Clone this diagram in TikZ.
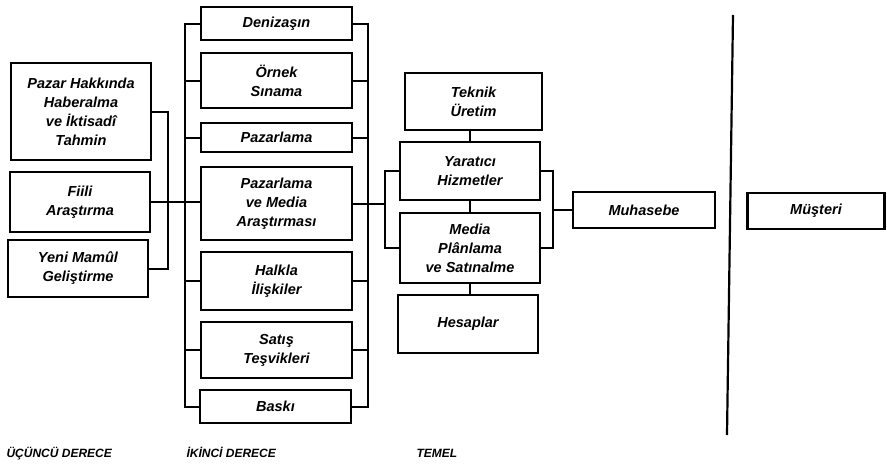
\documentclass[tikz,border=0pt]{standalone}
\usepackage{fontspec}
\setmainfont{Liberation Sans}
\usetikzlibrary{calc}

\tikzset{
  box/.style={draw, line width=2.3pt, align=center, inner sep=1pt,
    font=\fontsize{14.5}{19}\selectfont\bfseries\itshape},
  wire/.style={line width=2pt},
  level/.style={anchor=base west, font=\fontsize{12}{14}\selectfont\bfseries\itshape}
}

\begin{document}
\begin{tikzpicture}[x=1pt, y=-1pt]
  \useasboundingbox (0,0) rectangle (887,474);

  % Third degree
  \node[box, minimum width=140, minimum height=97] (haber) at (81,111.5) {Pazar Hakkında\\Haberalma\\ve İktisadî\\Tahmin};
  \node[box, minimum width=140, minimum height=60] (fiili) at (80,202) {Fiili\\Araştırma};
  \node[box, minimum width=140, minimum height=57] (yeni) at (78,268.5) {Yeni Mamûl\\Geliştirme};

  % Second degree
  \node[box, minimum width=151, minimum height=33] (deniz) at (276.5,23.5) {Denizaşın};
  \node[box, minimum width=151, minimum height=55] (ornek) at (276.5,80.5) {Örnek\\Sınama};
  \node[box, minimum width=151, minimum height=29] (pazar) at (276.5,137.5) {Pazarlama};
  \node[box, minimum width=151, minimum height=73] (media) at (276.5,203.5) {Pazarlama\\ve Media\\Araştırması};
  \node[box, minimum width=151, minimum height=58] (halkla) at (276.5,281) {Halkla\\İlişkiler};
  \node[box, minimum width=151, minimum height=56] (satis) at (276.5,350) {Satış\\Teşvikleri};
  \node[box, minimum width=151, minimum height=33] (baski) at (275.5,406.5) {Baskı};

  % Basic
  \node[box, minimum width=137, minimum height=57] (teknik) at (473.5,101.5) {Teknik\\Üretim};
  \node[box, minimum width=140, minimum height=58] (yaratici) at (470,171) {Yaratıcı\\Hizmetler};
  \node[box, minimum width=140, minimum height=70] (mplan) at (470,248) {Media\\Plânlama\\ve Satınalme};
  \node[box, minimum width=140, minimum height=58] (hesap) at (468,324) {Hesaplar};
  \node[box, minimum width=142, minimum height=36] (muhasebe) at (644,210) {Muhasebe};

  % Customer side
  \coordinate (divtop) at (733,15);
  \coordinate (divbot) at (727,435);
  \draw[line width=2.2pt] (divtop) -- (divbot);
  \node[box, minimum width=137, minimum height=36] (musteri) at (816,211) {Müşteri};

  % Bus lines
  \coordinate (lbus) at (185,0);
  \coordinate (rbus) at (368,0);
  \coordinate (tl) at (385,0);
  \coordinate (tr) at (553,0);

  \draw[wire] (haber.east) -- ++(16,0) |- (yeni.east);
  \draw[wire] (fiili.east) -- (fiili.east -| media.west);

  \draw[wire] (deniz.west) -- (deniz.west -| lbus) |- (baski.west);
  \draw[wire] (deniz.east) -- (deniz.east -| rbus) |- (baski.east);
  \foreach \n in {ornek, pazar, halkla, satis} {
    \draw[wire] (\n.west) -- (\n.west -| lbus);
    \draw[wire] (\n.east) -- (\n.east -| rbus);
  }

  \draw[wire] (media.east) -- (media.east -| tl);
  \draw[wire] (yaratici.west) -- (yaratici.west -| tl) |- (mplan.west);
  \draw[wire] (yaratici.east) -- (yaratici.east -| tr) |- (mplan.east);
  \draw[wire] (muhasebe.west) -- (muhasebe.west -| tr);

  \draw[wire] (teknik.south -| yaratici.north) -- (yaratici.north);
  \draw[wire] (yaratici.south) -- (mplan.north);
  \draw[wire] (mplan.south) -- (mplan.south |- hesap.north);

  % Levels
  \node[level] (l3) at (3,457) {ÜÇÜNCÜ DERECE};
  \node[level] (l2) at (183,457) {İKİNCİ DERECE};
  \node[level] (l1) at (413,457) {TEMEL};
\end{tikzpicture}
\end{document}
